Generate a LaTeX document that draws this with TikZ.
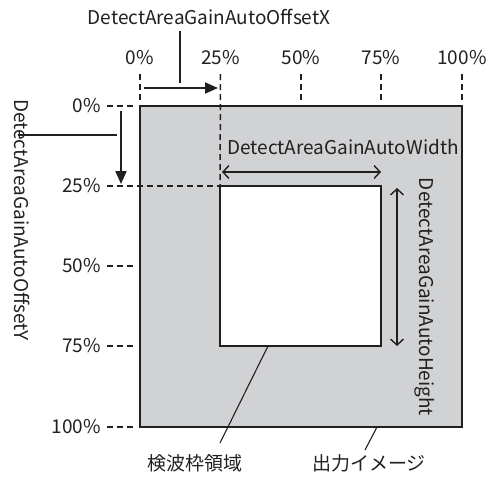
\documentclass[tikz,border=0pt]{standalone}
\usepackage{fontspec}
\setmainfont{Noto Sans CJK JP}
\usetikzlibrary{arrows.meta}
\definecolor{areagray}{HTML}{D1D2D4}
\definecolor{ink}{HTML}{231F20}
\begin{document}
\begin{tikzpicture}[x=1pt,y=-1pt,
  lbl/.style={font=\fontsize{19}{22}\selectfont, text=ink, inner sep=0pt},
  guide/.style={draw=ink, line width=1.5pt, dash pattern=on 6pt off 4pt},
  frame/.style={draw=ink, line width=1.6pt, inner sep=0pt, outer sep=0pt},
  offarrow/.style={draw=ink, line width=1.9pt, -{Triangle[length=13pt,width=11pt]}},
  sizearrow/.style={draw=ink, line width=1.4pt, {Straight Barb[length=6pt,width=13pt]}-{Straight Barb[length=6pt,width=13pt]}},
  leader/.style={draw=ink, line width=1.1pt}]
\useasboundingbox (0,0) rectangle (493,477);

% output image and detection area
\node[frame, fill=areagray, minimum width=322pt, minimum height=321pt] (out) at (301,266.5) {};
\node[frame, fill=white, minimum width=161pt, minimum height=160pt] (area) at (300.5,266) {};

% horizontal scale
\foreach \x/\n in {140/0, 220.5/25, 301/50, 381/75, 462/100}{
  \node[lbl] (tx\n) at (\x,58) {\n\%};
}
\foreach \x in {140,301,381,462}{
  \draw[guide] (\x,74) -- (\x,100);
}
\draw[guide] (220.5,74) -- (area.north west);

% vertical scale
\foreach \y/\n in {106/0, 186/25, 266/50, 346/75, 427/100}{
  \node[lbl, anchor=east] (ty\n) at (101,\y) {\n\%};
}
\foreach \y in {106,266,346,427}{
  \draw[guide] (107,\y) -- (133,\y);
}
\draw[guide] (107,186) -- (area.north west);

% offsets
\coordinate (ox0) at (144,88);
\coordinate (ox1) at (218,88);
\draw[offarrow] (ox0) -- (ox1);
\node[lbl] (offx) at (209,17) {DetectAreaGainAutoOffsetX};
\coordinate (offxend) at (180,83);
\draw[leader, line width=1.5pt] (offx.south -| offxend) ++(0,6) -- (offxend);

\coordinate (oy0) at (121,111);
\coordinate (oy1) at (121,184);
\draw[offarrow] (oy0) -- (oy1);
\node[lbl, rotate=-90] (offy) at (22,220) {DetectAreaGainAutoOffsetY};
\coordinate (offyend) at (117,135);
\draw[leader, line width=1.5pt] (offy.south |- offyend) ++(4,0) -- (offyend);

% size
\coordinate (w0) at (222,172);
\coordinate (w1) at (381,172);
\draw[sizearrow] (w0) -- (w1);
\node[lbl] (wlbl) at (343,147) {DetectAreaGainAutoWidth};

\coordinate (h0) at (397,188);
\coordinate (h1) at (397,346);
\draw[sizearrow] (h0) -- (h1);
\node[lbl, rotate=-90] (hlbl) at (425,297) {DetectAreaGainAutoHeight};

% callouts
\node[lbl] (areatext) at (195,463) {検波枠領域};
\node[lbl] (outtext) at (369,463) {出力イメージ};
\coordinate (areapt) at (268,346);
\coordinate (outpt) at (377,427);
\draw[leader] (areapt) -- (220,443);
\draw[leader] (outpt) -- (365,450);
\end{tikzpicture}
\end{document}
